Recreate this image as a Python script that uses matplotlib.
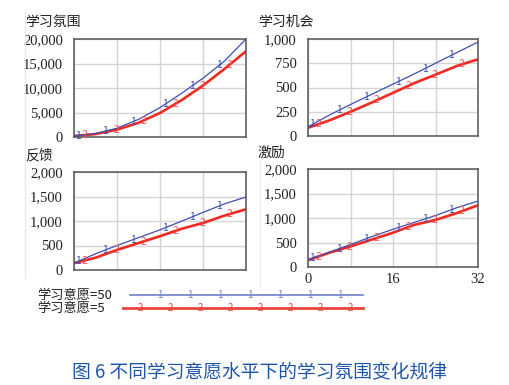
import matplotlib
matplotlib.use("Agg")
import matplotlib.pyplot as plt
from matplotlib.lines import Line2D
import numpy as np

plt.rcParams['font.family'] = ['Noto Sans CJK SC', 'DejaVu Sans']

# 时间 (0-32), 每 4 个单位读一个值
t = [0, 4, 8, 12, 16, 20, 24, 28, 32]

atmos_50 = [200, 700, 1800, 3600, 6000, 8900, 12000, 15500, 20000]
atmos_5 = [200, 600, 1500, 2900, 4900, 7500, 10500, 13900, 17500]

chance_50 = [95, 215, 325, 430, 535, 640, 750, 860, 968]
chance_5 = [85, 160, 250, 345, 445, 545, 632, 722, 790]

feedback_50 = [140, 330, 500, 660, 820, 995, 1175, 1350, 1490]
feedback_5 = [140, 250, 410, 550, 690, 840, 960, 1110, 1240]

incentive_50 = [150, 300, 460, 620, 770, 910, 1050, 1210, 1345]
incentive_5 = [140, 290, 420, 560, 700, 860, 960, 1100, 1260]

titles = ['学习氛围', '学习机会', '反馈', '激励']
ymax = [20000, 1000, 2000, 2000]
yticks = [[0, 5000, 10000, 15000, 20000],
          [0, 250, 500, 750, 1000],
          [0, 500, 1000, 1500, 2000],
          [0, 500, 1000, 1500, 2000]]
series_50 = [atmos_50, chance_50, feedback_50, incentive_50]
series_5 = [atmos_5, chance_5, feedback_5, incentive_5]

# 曲线上的编号标记位置
marks_50 = [0.8, 5.8, 11, 16.9, 22, 27]
marks_5 = [1.9, 7.9, 12.9, 18.9, 23.9, 28.9]

legend_labels = ['学习意愿=50', '学习意愿=5']
caption = '图 6 不同学习意愿水平下的学习氛围变化规律'

BLUE = '#3f4fb0'
RED = '#ee2a22'
W, H = 509, 385

fig = plt.figure(figsize=(W / 100, H / 100), dpi=100)

# 像素框: (left, top, right, bottom)
boxes = [(74, 39, 246, 137), (308, 39, 478, 136),
         (74, 172, 246, 270), (308, 169, 478, 267)]
title_pos = [(25, 22), (258, 22), (25, 155), (258, 153)]

for i in range(4):
    l, tp, r, b = boxes[i]
    ax = fig.add_axes([l / W, 1 - b / H, (r - l) / W, (b - tp) / H])
    ax.set_xlim(0, 32)
    ax.set_ylim(0, ymax[i])
    ax.set_xticks([0, 8, 16, 24, 32])
    ax.set_yticks(yticks[i])
    ax.grid(True, color='#d4d4d4', lw=1.0)
    ax.set_axisbelow(True)
    for s in ax.spines.values():
        s.set_color('#555555')
        s.set_linewidth(1.1)
    ax.tick_params(length=0, pad=8, labelsize=10.5, colors='#222222')
    ax.set_yticklabels([f'{v:,}' for v in yticks[i]], family='Liberation Serif')
    if i == 3:
        ax.set_xticklabels(['0', '', '16', '', '32'], family='Liberation Serif')
        ax.tick_params(axis='x', pad=4)
    else:
        ax.set_xticklabels([])

    ax.plot(t, series_50[i], color=BLUE, lw=0.9, zorder=3)
    ax.plot(t, series_5[i], color=RED, lw=1.9, zorder=2)
    for m in marks_50:
        ax.text(m, np.interp(m, t, series_50[i]), '1', color=BLUE, fontsize=7.5,
                ha='center', va='center', zorder=4)
    for m in marks_5:
        ax.text(m, np.interp(m, t, series_5[i]), '2', color='#f05050', fontsize=7.5,
                ha='center', va='center', zorder=4)

    tx, ty = title_pos[i]
    fig.text(tx / W, 1 - ty / H, titles[i], fontsize=10, color='#222222',
             ha='left', va='center')

# 图例
leg_y = [295, 308]
leg_x0 = [130, 123]
leg_cols = ['#7080c8', '#e8443c']
leg_lw = [1.2, 2.0]
leg_marks = [[160, 190, 220, 250, 280, 310, 340],
             [140, 170, 200, 230, 260, 290, 320, 350]]
for k in range(2):
    y = 1 - leg_y[k] / H
    fig.text(37 / W, y, legend_labels[k], fontsize=9.5, color='#222222',
             ha='left', va='center')
    fig.add_artist(Line2D([leg_x0[k] / W, 363 / W], [y, y], color=leg_cols[k],
                          lw=leg_lw[k], transform=fig.transFigure))
    for mx in leg_marks[k]:
        fig.text(mx / W, y, str(k + 1), color=leg_cols[k], fontsize=7,
                 ha='center', va='center')

# 截图边框的淡线
fig.add_artist(Line2D([25 / W, 25 / W], [1 - 12 / H, 1 - 278 / H],
                      color='#e6e6e6', lw=0.8, transform=fig.transFigure))
fig.add_artist(Line2D([260 / W, 260 / W], [1 - 150 / H, 1 - 287 / H],
                      color='#eeeeee', lw=0.8, transform=fig.transFigure))

fig.text(260 / W, 1 - 372 / H, caption, fontsize=13.5, color='#1f55a8',
         ha='center', va='center')

fig.savefig('out.png', dpi=100)
